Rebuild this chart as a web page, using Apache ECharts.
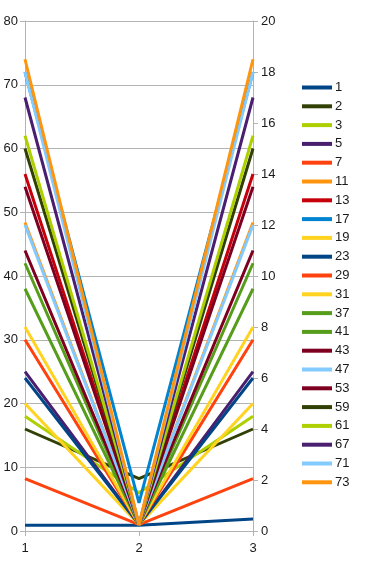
<!DOCTYPE html>
<html>
<head>
<meta charset="utf-8">
<script src="https://cdn.jsdelivr.net/npm/echarts@6/dist/echarts.min.js"></script>
<style>html,body{margin:0;padding:0;background:#fff}#c{width:377px;height:566px}</style>
</head>
<body>
<div id="c"></div>
<script>
const categories = ['1', '2', '3'];
const seriesNames = ['1','2','3','5','7','11','13','17','19','23','29','31','37','41','43','47','53','59','61','67','71','73'];
const s1 = [0.9, 0.9, 1.9];
const s2 = [16, 8.2, 16];
const s3 = [18, 6, 18];
const s5 = [25, 1, 25];
const s7 = [8.2, 1, 8.2];
const s11 = [48.4, 1, 48.4];
const s13 = [56, 1, 56];
const s17 = [72, 4.4, 72];
const s19 = [20, 1, 20];
const s23 = [24, 1, 24];
const s29 = [30, 1, 30];
const s31 = [32, 1, 32];
const s37 = [38, 1, 38];
const s41 = [42, 1, 42];
const s43 = [44, 1, 44];
const s47 = [48, 1, 48];
const s53 = [54, 1, 54];
const s59 = [60, 1, 60];
const s61 = [62, 1, 62];
const s67 = [68, 1, 68];
const s71 = [72, 1, 72];
const s73 = [74, 1, 74];
const seriesValues = [s1,s2,s3,s5,s7,s11,s13,s17,s19,s23,s29,s31,s37,s41,s43,s47,s53,s59,s61,s67,s71,s73];
const colors = ['#004586','#314004','#aecf00','#4b1f6f','#ff420e','#ff950e','#c5000b','#0084d1','#ffd320','#004586','#ff420e','#ffd320','#579d1c','#579d1c','#7e0021','#83caff','#7e0021','#314004','#aecf00','#4b1f6f','#83caff','#ff950e'];

const chart = echarts.init(document.getElementById('c'), null, {renderer: 'canvas'});
const font = 'Liberation Sans, Arial, sans-serif';
chart.setOption({
  animation: false,
  color: colors,
  grid: {left: 25, right: 124, top: 21, bottom: 35, containLabel: false},
  legend: {
    orient: 'vertical', left: 297, top: 75,
    itemWidth: 30, itemHeight: 4, itemGap: 3.8,
    icon: 'rect',
    textStyle: {fontFamily: font, fontSize: 13, color: '#1a1a1a', lineHeight: 15, padding: [0,0,0,-2]},
    data: seriesNames
  },
  xAxis: {
    type: 'category', data: categories, boundaryGap: false,
    axisLine: {lineStyle: {color: '#b3b3b3', width: 1}},
    axisTick: {show: true, length: 5, lineStyle: {color: '#b3b3b3'}},
    axisLabel: {fontFamily: font, fontSize: 13, color: '#1a1a1a', margin: 11},
    splitLine: {show: false}
  },
  yAxis: [
    {type: 'value', min: 0, max: 80, interval: 10,
     axisLine: {show: true, lineStyle: {color: '#b3b3b3'}},
     axisTick: {show: true, length: 5, lineStyle: {color: '#b3b3b3'}},
     axisLabel: {fontFamily: font, fontSize: 13, color: '#1a1a1a', margin: 7},
     splitLine: {show: true, lineStyle: {color: '#b3b3b3', width: 1}}},
    {type: 'value', min: 0, max: 20, interval: 2, position: 'right',
     axisLine: {show: true, lineStyle: {color: '#b3b3b3'}},
     axisTick: {show: true, length: 5, lineStyle: {color: '#b3b3b3'}},
     axisLabel: {fontFamily: font, fontSize: 13, color: '#1a1a1a', margin: 8},
     splitLine: {show: false}}
  ],
  series: seriesNames.map((n, i) => ({
    name: n, type: 'line', data: seriesValues[i], yAxisIndex: 0,
    showSymbol: false, symbol: 'none',
    lineStyle: {width: 3, color: colors[i]},
    itemStyle: {color: colors[i]}
  }))
});
</script>
</body>
</html>
